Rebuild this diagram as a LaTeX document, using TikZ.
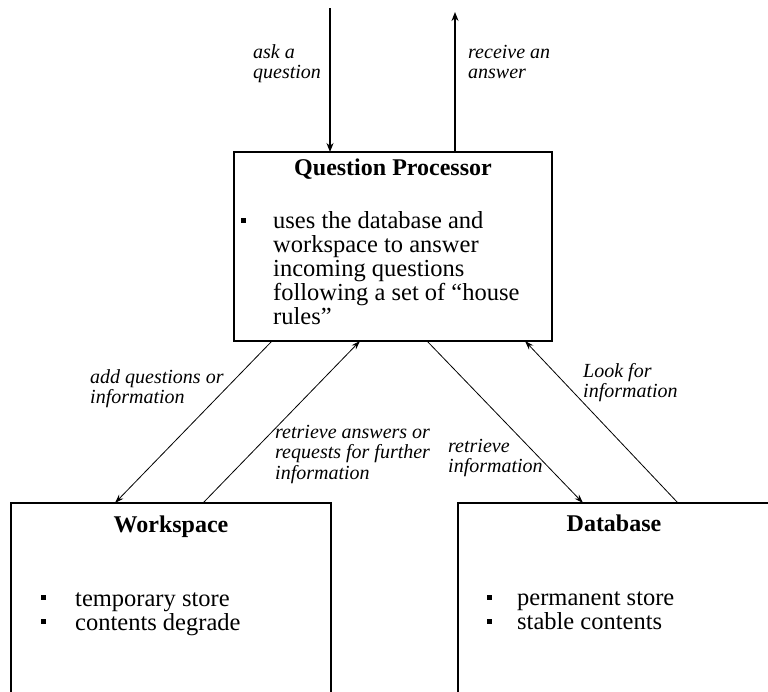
\documentclass[tikz,border=0pt]{standalone}
\usepackage{fontspec}
\setmainfont{Liberation Serif}
\usetikzlibrary{arrows.meta}
\newcommand\mylines[1]{\begin{tabular}[t]{@{}l@{}}#1\end{tabular}}
\begin{document}
\begin{tikzpicture}[x=1pt,y=-1pt,
 box/.style={draw, line width=1.5pt, inner sep=0pt, outer sep=0pt, rectangle},
 boxtitle/.style={font=\fontsize{24}{24}\selectfont\bfseries, inner sep=0pt, anchor=base},
 body/.style={font=\fontsize{24.5}{24}\selectfont, inner sep=0pt, anchor=base west},
 lbl/.style={font=\fontsize{20}{20.5}\selectfont\itshape, inner sep=0pt, anchor=base west},
 bul/.style={fill, rectangle, minimum size=5pt, inner sep=0pt},
 conn/.style={line width=0.8pt, -{Stealth[length=9pt,width=6pt]}},
 vconn/.style={line width=1.4pt, -{Stealth[length=9pt,width=7pt]}}]
\useasboundingbox (0,0) rectangle (768,691);
\clip (0,0) rectangle (768,691);
% boxes
\node[box, minimum width=318pt, minimum height=189pt] (qp) at (393,246.5) {};
\node[box, minimum width=320pt, minimum height=230pt] (ws) at (171,618) {};
\node[box, minimum width=312pt, minimum height=230pt] (db) at (614,618) {};
% titles
\node[boxtitle] (qpt) at (393,175) {Question Processor};
\node[boxtitle] (wst) at (171,532) {Workspace};
\node[boxtitle] (dbt) at (614,531) {Database};
% bodies
\node[bul] (qpb1) at (243,220) {};
\node[body] (qptext) at (273,228) {\mylines{uses the database and\\workspace to answer\\incoming questions\\following a set of ``house\\rules''}};
\node[bul] (wsb1) at (43,597) {};
\node[bul] (wsb2) at (43,621) {};
\node[body] (wstext) at (75,606) {\mylines{temporary store\\contents degrade}};
\node[bul] (dbb1) at (489,597) {};
\node[bul] (dbb2) at (489,621) {};
\node[body] (dbtext) at (517,605) {\mylines{permanent store\\stable contents}};
% top connectors
\coordinate (askin) at (330,8);
\coordinate (ansout) at (455,12);
\draw[vconn] (askin) -- (askin |- qp.north);
\draw[vconn] (ansout |- qp.north) -- (ansout);
% diagonal connectors
\draw[conn] ([xshift=38pt]qp.south west) -- ([xshift=104pt]ws.north west);
\draw[conn] ([xshift=192pt]ws.north west) -- ([xshift=126pt]qp.south west);
\draw[conn] ([xshift=193pt]qp.south west) -- ([xshift=125pt]db.north west);
\draw[conn] ([xshift=220pt]db.north west) -- ([xshift=291pt]qp.south west);
% labels
\node[lbl] (l1) at (253,58) {\mylines{ask a\\question}};
\node[lbl] (l2) at (468,58) {\mylines{receive an\\answer}};
\node[lbl] (l3) at (90,383) {\mylines{add questions or\\information}};
\node[lbl] (l4) at (275,438) {\mylines{retrieve answers or\\requests for further\\information}};
\node[lbl] (l5) at (448,452) {\mylines{retrieve\\information}};
\node[lbl] (l6) at (583,377) {\mylines{Look for\\information}};
\end{tikzpicture}
\end{document}
